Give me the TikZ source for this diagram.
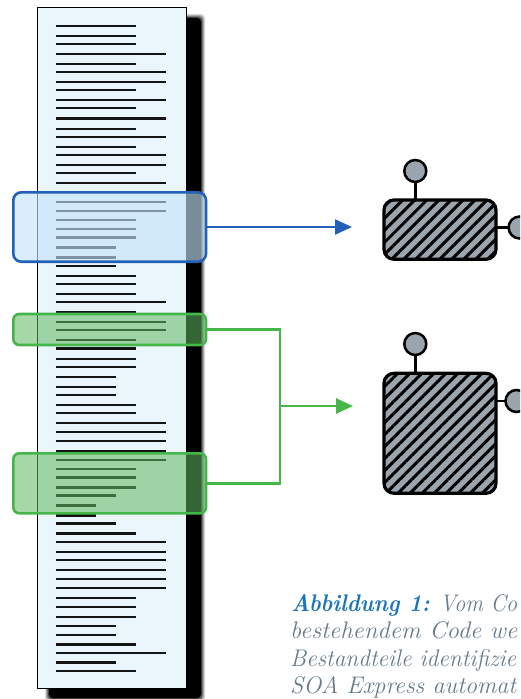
\documentclass[tikz,border=0pt]{standalone}
\usetikzlibrary{arrows.meta,patterns.meta}
\definecolor{docfill}{HTML}{EAF5FC}
\definecolor{selblue}{HTML}{2360B8}
\definecolor{selbluefill}{HTML}{C2E2F7}
\definecolor{selgreen}{HTML}{45B649}
\definecolor{selgreenfill}{HTML}{5FB85F}
\definecolor{compgrey}{HTML}{9AA5AD}
\definecolor{capblue}{HTML}{1B75BC}
\definecolor{captext}{HTML}{667B89}
\newcommand\fitline[2]{\resizebox{#1}{\height}{#2}}
\tikzset{
  docbox/.style={draw=black, line width=1.3pt, fill=docfill, inner sep=0pt, outer sep=0pt, anchor=north west},
  codeline/.style={line width=2.2pt, draw=black!92},
  bluesel/.style={draw=selblue, line width=2.6pt, fill=selbluefill, fill opacity=0.62, rounded corners=8pt, inner sep=0pt, outer sep=0pt, anchor=north west},
  greensel/.style={draw=selgreen, line width=2.6pt, fill=selgreenfill, fill opacity=0.55, rounded corners=6pt, inner sep=0pt, outer sep=0pt, anchor=north west},
  comp/.style={draw=black, line width=3.2pt, rounded corners=10pt, inner sep=0pt, outer sep=0pt, anchor=north west,
    preaction={fill=compgrey}, pattern={Lines[angle=45, distance=8.5pt, line width=3pt]}, pattern color=black},
  pinball/.style={circle, draw=black, line width=2.5pt, fill=compgrey, minimum size=22pt, inner sep=0pt, outer sep=0pt},
  stem/.style={line width=2.5pt, draw=black},
  blueconn/.style={draw=selblue, line width=2.2pt},
  greenconn/.style={draw=selgreen, line width=2.6pt},
  tipend/.style={-{Triangle[length=17pt, width=15pt]}},
  captionline/.style={anchor=base west, inner sep=0pt, text=captext, font=\fontsize{24}{27}\selectfont\itshape},
}
\begin{document}
\begin{tikzpicture}[x=1pt,y=-1pt]
\useasboundingbox (0,0) rectangle (520,699);
\begin{scope}
\clip (0,0) rectangle (520,699);
% shadow
\foreach \i/\o in {4/0.15,3/0.2,2/0.3,1/0.45,0/1} {
  \fill[black, opacity=\o, rounded corners=4pt] (49-\i,18-\i) rectangle (201+\i,698+\i);
}
% document
\node[docbox, minimum width=149pt, minimum height=681pt] (doc) at (37.3,7.5) {};
\foreach \y/\e in {25.7/136,35.7/136,44/136,54/166,63.7/136,72/166,81.7/166,90/136,100/166,108.3/136,
  118.5/166,128.8/136,136.8/166,146.8/136,155/166,164.7/166,173.2/136,183/166,
  201.7/166,211.3/166,219.7/136,229.3/136,237.5/136,247.5/116,257.5/116,265.8/116,275.8/136,284/136,
  293.8/136,302.2/166,312.2/136,322.2/166,330.2/166,340.2/136,348.5/136,358.6/136,367/136,
  377/116,386.7/116,395/116,405/136,413.3/136,423.3/166,431.7/166,441.3/166,451.3/166,459.8/166,
  469/136,477.5/136,487.5/136,495.5/116,505.5/96,515.5/96,523.5/116,533.5/136,541.8/166,551.8/166,
  560/166,570/166,579/166,588.2/166,598.2/136,606.8/136,616.7/136,626.2/116,634.7/116,644.5/136,
  653/166,662.5/116,671.3/136} {
  \draw[codeline] (55.5,\y) -- (\e,\y);
}
% selections
\node[bluesel, minimum width=192.7pt, minimum height=69.4pt] (sel1) at (13.3,192.3) {};
\node[greensel, minimum width=192.7pt, minimum height=31pt] (sel2) at (13.3,314) {};
\node[greensel, minimum width=192.7pt, minimum height=60pt] (sel3) at (13.3,453.3) {};
% components
\node[comp, minimum width=112pt, minimum height=59.3pt] (svc1) at (384,200) {};
\node[comp, minimum width=112pt, minimum height=120pt] (svc2) at (384,373.3) {};
\node[pinball] (p1top) at (415.3,171) {};
\node[pinball] (p1right) at (519.6,227.5) {};
\node[pinball] (p2top) at (415.3,344) {};
\node[pinball] (p2right) at (516.5,401) {};
\draw[stem] (p1top.south) -- (p1top.south |- svc1.north);
\draw[stem] (svc1.east |- p1right) -- (p1right.west);
\draw[stem] (p2top.south) -- (p2top.south |- svc2.north);
\draw[stem] (svc2.east |- p2right) -- (p2right.west);
% connectors
\coordinate (tip1) at (352,227);
\coordinate (join) at (280,406);
\coordinate (tip2) at (353,406);
\draw[blueconn, tipend] (sel1.east) -- (sel1.east -| tip1);
\draw[greenconn] (sel2.east) -| (join) |- (sel3.east);
\draw[greenconn, tipend] (join) -- (tip2);
% caption
\node[captionline] (cap1) at (291,611.7) {\fitline{226pt}{\textcolor{capblue}{\bfseries Abbildung 1:} Vom Co}};
\node[captionline] (cap2) at (290,638.8) {\fitline{227pt}{bestehendem Code we}};
\node[captionline] (cap3) at (290,666) {\fitline{226pt}{Bestandteile identifizie}};
\node[captionline] (cap4) at (290,693) {\fitline{226pt}{SOA Express automat}};
\end{scope}
\end{tikzpicture}
\end{document}
